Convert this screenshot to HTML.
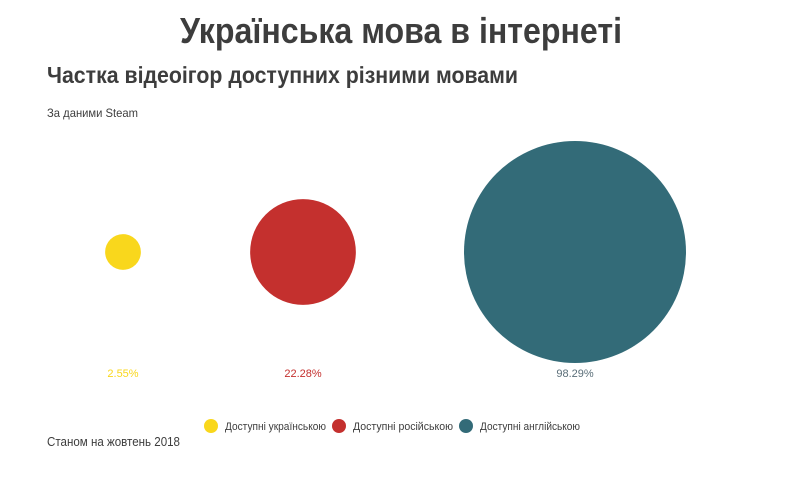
<!DOCTYPE html>
<html><head><meta charset="utf-8"><style>
body{margin:0;background:#fff}
svg text{font-family:"Liberation Sans","Noto Sans CJK SC",sans-serif}
</style></head><body>
<svg width="800" height="487" viewBox="0 0 800 487">
<text x="401" y="43" text-anchor="middle" font-size="36" font-weight="bold" fill="#3d3d3d" textLength="442" lengthAdjust="spacingAndGlyphs">Українська мова в інтернеті</text>
<text x="47" y="83" font-size="23" font-weight="bold" fill="#3d3d3d" textLength="471" lengthAdjust="spacingAndGlyphs">Частка відеоігор доступних різними мовами</text>
<text x="47" y="117" font-size="12" fill="#3d3d3d" textLength="91" lengthAdjust="spacingAndGlyphs">За даними Steam</text>
<g id="bubbles"></g>
<g id="legend"></g>
<text x="47" y="446" font-size="13" fill="#3d3d3d" textLength="133" lengthAdjust="spacingAndGlyphs">Станом на жовтень 2018</text>
</svg>
<script>
const categories=["Доступні українською","Доступні російською","Доступні англійською"];
const values=[2.55,22.28,98.29];
const labels=["2.55%","22.28%","98.29%"];
const colors=["#f9d71c","#c4302e","#336b78"];
const ns="http://www.w3.org/2000/svg";
const maxR=111, cy=252, xs=[123,303,575];
const r=v=>maxR*Math.sqrt(v/Math.max(...values));
const g=document.getElementById('bubbles');
values.forEach((v,i)=>{
  const c=document.createElementNS(ns,'circle');
  
  
  c.setAttribute('cx',xs[i]);c.setAttribute('cy',cy);c.setAttribute('r',r(v));
  c.setAttribute('fill',colors[i]);g.appendChild(c);
  const t=document.createElementNS(ns,'text');
  
  
  t.setAttribute('x',xs[i]);t.setAttribute('y',377);t.setAttribute('text-anchor','middle');
  t.setAttribute('font-size','11');t.setAttribute('fill',i==2?'#5a6e78':colors[i]);
  t.textContent=labels[i];g.appendChild(t);
});
const lg=document.getElementById('legend');
const lx=[211,339,466], tw=[101,100,100];
categories.forEach((c,i)=>{
  const d=document.createElementNS(ns,'circle');
  
  
  d.setAttribute('cx',lx[i]);d.setAttribute('cy',426);d.setAttribute('r',7);d.setAttribute('fill',colors[i]);
  lg.appendChild(d);
  const t=document.createElementNS(ns,'text');
  
  
  t.setAttribute('x',lx[i]+14);t.setAttribute('y',430);t.setAttribute('font-size','11');
  t.setAttribute('fill','#3d3d3d');t.setAttribute('textLength',tw[i]);t.setAttribute('lengthAdjust','spacingAndGlyphs');
  t.textContent=c;lg.appendChild(t);
});
</script>
</body></html>
